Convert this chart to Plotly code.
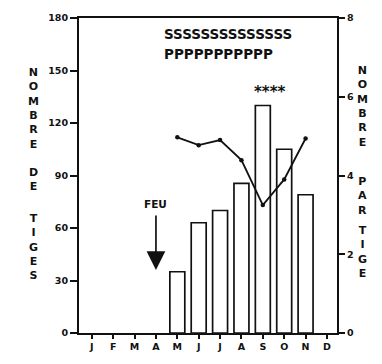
import plotly.graph_objects as go

months = ["J", "F", "M", "A", "M", "J", "J", "A", "S", "O", "N", "D"]
month_idx = list(range(12))
nombre_tiges = [None, None, None, None, 35, 63, 70, 85.5, 130, 105, 79, None]
nombre_par_tige = [None, None, None, None, 4.97, 4.77, 4.90, 4.39, 3.25, 3.90, 4.94, None]
left_ticks = [0, 30, 60, 90, 120, 150, 180]
right_ticks = [0, 2, 4, 6, 8]

FONT = "DejaVu Sans"
BLACK = "#111111"

fig = go.Figure()
fig.add_trace(go.Bar(
    x=month_idx, y=nombre_tiges, width=0.7,
    marker=dict(color="white", line=dict(color=BLACK, width=1.7)),
    showlegend=False,
))
fig.add_trace(go.Scatter(
    x=month_idx, y=nombre_par_tige, yaxis="y2", mode="lines+markers",
    line=dict(color=BLACK, width=1.8), marker=dict(color=BLACK, size=4.5),
    showlegend=False,
))

tickfont = dict(family=FONT, size=9.5, color=BLACK, weight="bold")

fig.update_layout(
    width=382, height=364,
    margin=dict(l=79, r=45, t=14, b=23),
    plot_bgcolor="white", paper_bgcolor="white",
    xaxis=dict(
        range=[-0.6, 11.47], tickvals=month_idx, ticktext=months,
        ticks="outside", ticklen=4, tickwidth=1.5, tickcolor=BLACK,
        showline=True, linecolor=BLACK, linewidth=2, mirror=True,
        showgrid=False, zeroline=False, tickfont=tickfont,
    ),
    xaxis2=dict(
        range=[-0.6, 11.47], tickvals=month_idx, showticklabels=False,
        overlaying="x", anchor="y",
        ticks="inside", ticklen=4, tickwidth=1.5, tickcolor=BLACK,
        showline=False, showgrid=False, zeroline=False,
    ),
    yaxis=dict(
        range=[0, 180], tickvals=left_ticks,
        ticks="outside", ticklen=7, tickwidth=1.5, tickcolor=BLACK,
        showline=True, linecolor=BLACK, linewidth=2,
        showgrid=False, zeroline=False, tickfont=tickfont,
    ),
    yaxis2=dict(
        range=[0, 8], tickvals=right_ticks, overlaying="y", side="right",
        ticks="outside", ticklen=6, tickwidth=1.5, tickcolor=BLACK,
        showline=True, linecolor=BLACK, linewidth=2,
        showgrid=False, zeroline=False, tickfont=tickfont,
    ),
    bargap=0.3,
)

title_font = dict(family=FONT, size=11, color=BLACK, weight="bold")
ann = []
for text, y in [("N<br>O<br>M<br>B<br>R<br>E", 0.712), ("D<br>E", 0.486), ("T<br>I<br>G<br>E<br>S", 0.274)]:
    ann.append(dict(text=text, xref="paper", yref="paper", x=-0.178, y=y,
                    xanchor="center", yanchor="middle", showarrow=False, font=title_font))
for text, y in [("N<br>O<br>M<br>B<br>R<br>E", 0.72), ("P<br>A<br>R", 0.434), ("T<br>I<br>G<br>E", 0.257)]:
    ann.append(dict(text=text, xref="paper", yref="paper", x=1.10, y=y,
                    xanchor="center", yanchor="middle", showarrow=False, font=title_font))

big_font = dict(family=FONT, size=13.5, color=BLACK, weight="bold")
ann.append(dict(text="SSSSSSSSSSSSSS", xref="x", yref="y", x=3.26, y=170.6,
                xanchor="left", yanchor="middle", showarrow=False, font=big_font))
ann.append(dict(text="PPPPPPPPPPP", xref="x", yref="y", x=3.26, y=159.6,
                xanchor="left", yanchor="middle", showarrow=False, font=big_font))
ann.append(dict(text="****", xref="x", yref="y", x=8.35, y=138,
                xanchor="center", yanchor="middle", showarrow=False,
                font=dict(family=FONT, size=15, color=BLACK, weight="bold")))
ann.append(dict(text="FEU", xref="x", yref="y", x=3, y=74,
                xanchor="center", yanchor="middle", showarrow=False,
                font=dict(family=FONT, size=10.5, color=BLACK, weight="bold")))
ann.append(dict(text="", xref="x", yref="y", x=3, y=36, axref="x", ayref="y", ax=3, ay=68,
                showarrow=True, arrowhead=2, arrowsize=2.2, arrowwidth=1.7, arrowcolor=BLACK))

fig.update_layout(annotations=ann)
fig.write_html("out.html")
